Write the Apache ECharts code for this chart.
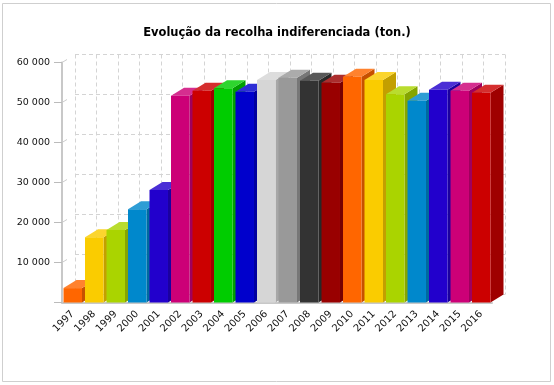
<!DOCTYPE html>
<html>
<head>
<meta charset="utf-8">
<script src="https://cdn.jsdelivr.net/npm/echarts@6/dist/echarts.min.js"></script>
<style>
html,body{margin:0;padding:0;background:#fff;}
#chart{width:554px;height:385px;}
</style>
</head>
<body>
<div id="chart"></div>
<script>
const titleText = 'Evolução da recolha indiferenciada (ton.)';
const years = ['1997','1998','1999','2000','2001','2002','2003','2004','2005','2006','2007','2008','2009','2010','2011','2012','2013','2014','2015','2016'];
const values = [3600,16300,18100,23300,28100,51700,52950,53550,52700,55600,56200,55450,54950,56450,55600,52050,50450,53200,52950,52450];
const yTicks = [10000,20000,30000,40000,50000,60000];
const palette = ['#ff6600','#facc00','#aad400','#0088cc','#2200cc','#cc0077','#cc0000','#00cc00','#0000cc','#d6d6d6','#999999','#333333','#990000','#ff6600','#facc00','#aad400','#0088cc','#2200cc','#cc0077','#cc0000'];

function shade(hex, f) {
  const n = parseInt(hex.slice(1), 16);
  let r = (n >> 16) & 255, g = (n >> 8) & 255, b = n & 255;
  if (f >= 0) { r += (255 - r) * f; g += (255 - g) * f; b += (255 - b) * f; }
  else { r *= (1 + f); g *= (1 + f); b *= (1 + f); }
  return 'rgb(' + Math.round(r) + ',' + Math.round(g) + ',' + Math.round(b) + ')';
}

const DX = 13, DY = -8;
const chart = echarts.init(document.getElementById('chart'));
const fmt = v => v === 0 ? '' : String(v).replace(/\B(?=(\d{3})+(?!\d))/g, ' ');

chart.setOption({
  animation: false,
  title: {
    text: titleText, left: 'center', top: 22,
    textStyle: { fontFamily: 'DejaVu Sans', fontSize: 11.5, fontWeight: 'bold', color: '#000' }
  },
  graphic: [{
    type: 'rect', shape: { x: 2.5, y: 3.5, width: 548, height: 378 },
    style: { fill: 'none', stroke: '#cfcfcf', lineWidth: 1 }, silent: true, z: -10
  }],
  grid: [
    { left: 62, top: 62.5, width: 430, height: 240 },
    { left: 62 + DX, top: 62.5 + DY, width: 430, height: 240 }
  ],
  xAxis: [
    {
      type: 'category', data: years, gridIndex: 0,
      axisLine: { lineStyle: { color: '#c8c8c8', width: 2 } },
      axisTick: { alignWithLabel: true, length: 7, lineStyle: { color: '#bbb' } },
      axisLabel: { rotate: 45, fontFamily: 'DejaVu Sans', fontSize: 10, color: '#111', margin: 10, interval: 0 },
      splitLine: { show: false }
    },
    {
      type: 'category', data: years, gridIndex: 1,
      axisLine: { show: false }, axisTick: { show: false }, axisLabel: { show: false },
      splitLine: { show: true, interval: 0, lineStyle: { color: '#d4d4d4', type: [4, 3], width: 1 } }
    }
  ],
  yAxis: [
    {
      type: 'value', min: 0, max: 60000, interval: 10000, gridIndex: 0,
      axisLine: { show: true, lineStyle: { color: '#c8c8c8', width: 2 } },
      axisTick: { show: true, length: 8, lineStyle: { color: '#bbb' } },
      axisLabel: { formatter: fmt, fontFamily: 'DejaVu Sans', fontSize: 9.5, color: '#111', margin: 12 },
      splitLine: { show: false }
    },
    {
      type: 'value', min: 0, max: 60000, interval: 10000, gridIndex: 1,
      axisLine: { show: false }, axisTick: { show: false }, axisLabel: { show: false },
      splitLine: { show: true, lineStyle: { color: '#d4d4d4', type: [4, 3], width: 1 } }
    }
  ],
  series: [
    {
      type: 'custom', xAxisIndex: 0, yAxisIndex: 0, z: 1,
      data: yTicks.map(v => [0, v]),
      renderItem: function (params, api) {
        const bw = api.size([1, 0])[0];
        const p = api.coord([api.value(0), api.value(1)]);
        const x0 = p[0] - bw / 2;
        return { type: 'line', shape: { x1: x0, y1: p[1], x2: x0 + 5, y2: p[1] - 3 }, style: { stroke: '#ccc', lineWidth: 1 } };
      }
    },
    {
      type: 'custom', xAxisIndex: 0, yAxisIndex: 0, z: 3,
      data: values.map((v, i) => [i, v]),
      renderItem: function (params, api) {
        const i = api.value(0), v = api.value(1);
        const base = api.coord([i, 0]);
        const top = api.coord([i, v]);
        const bw = api.size([1, 0])[0] * 0.86;
        const l = base[0] - bw / 2, r = l + bw, yb = base[1], yt = top[1];
        const c = palette[i];
        return {
          type: 'group',
          children: [
            { type: 'polygon', z2: i * 3, shape: { points: [[r, yb], [r + DX, yb + DY], [r + DX, yt + DY], [r, yt]] }, style: { fill: shade(c, -0.22) } },
            { type: 'polygon', z2: i * 3 + 1, shape: { points: [[l, yt], [l + DX, yt + DY], [r + DX, yt + DY], [r, yt]] }, style: { fill: shade(c, 0.18) } },
            { type: 'rect', z2: i * 3 + 2, shape: { x: l, y: yt, width: bw, height: yb - yt }, style: { fill: c } }
          ]
        };
      }
    }
  ]
});
</script>
</body>
</html>
